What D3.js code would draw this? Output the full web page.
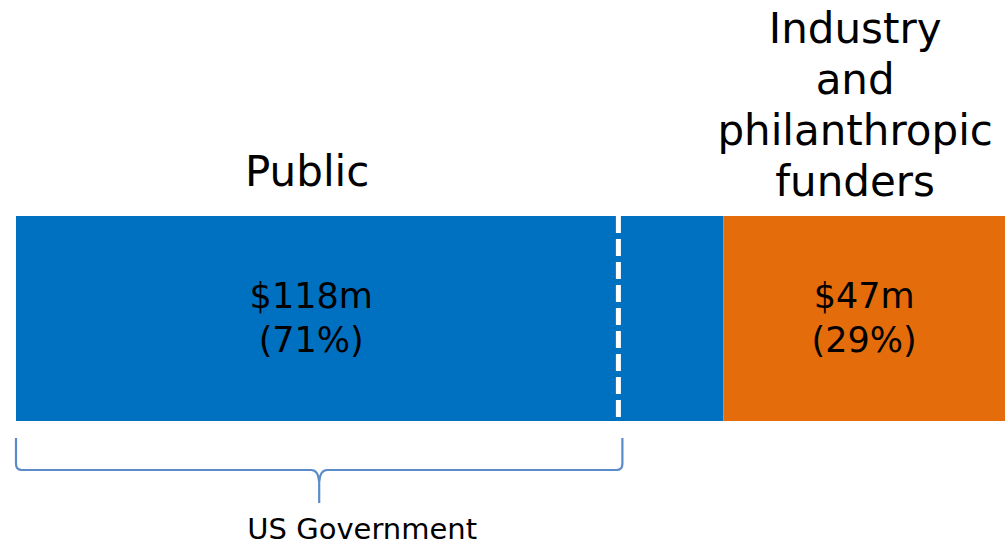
<!DOCTYPE html>
<html>
<head>
<meta charset="utf-8">
<script src="https://cdnjs.cloudflare.com/ajax/libs/d3/7.8.5/d3.min.js"></script>
<style>
  body{margin:0;background:#fff;}
  text{font-family:"DejaVu Sans",Verdana,sans-serif;fill:#000;}
</style>
</head>
<body>
<svg></svg>
<script>
var segments=["Public","Industry and philanthropic funders"];
var titleLines=[["Public"],["Industry","and","philanthropic","funders"]];
var amounts=[118,47];
var shares=[71,29];
var colors=["#0070C0","#E46C0A"];
var usGov=100.5;          // part of Public from the US Government ($m)
var usGovLabel="US Government";

var w=1007;
var h=545;
var margin={top:216,bottom:124,left:16,right:2};

var total=d3.sum(amounts);
var xScale=d3.scaleLinear()
             .domain([0,total])
             .range([margin.left,w-margin.right]);
var yScale=d3.scaleBand()
             .domain(["all"])
             .range([margin.top,h-margin.bottom])
             .padding(0);

var svg=d3.select("svg")
          .attr("width",w)
          .attr("height",h);

var starts=[0];
amounts.forEach(function(d,i){ starts.push(starts[i]+d); });

var bars=svg.append("g")
            .selectAll("rect")
            .data(amounts)
            .enter()
            .append("rect")
            .attr("x",function(d,i){ return xScale(starts[i]); })
            .attr("y",yScale("all"))
            .attr("width",function(d){ return xScale(d)-xScale(0); })
            .attr("height",yScale.bandwidth())
            .attr("fill",function(d,i){ return colors[i]; });

// dashed split inside Public
svg.append("line")
   .attr("x1",xScale(usGov)).attr("x2",xScale(usGov))
   .attr("y1",yScale("all")).attr("y2",yScale("all")+yScale.bandwidth())
   .attr("stroke","#fff")
   .attr("stroke-width",5)
   .attr("stroke-dasharray","17,6");

// value labels
var labelX=function(i){
  if(i==0) return (xScale(0)+xScale(usGov))/2-6;
  return (xScale(starts[i])+xScale(starts[i]+amounts[i]))/2;
};
var mid=yScale("all")+yScale.bandwidth()/2;
amounts.forEach(function(d,i){
  var t=svg.append("text")
           .attr("text-anchor","middle")
           .style("font-size","35px");
  t.append("tspan").attr("x",labelX(i)).attr("y",mid-11).text("$"+d+"m");
  t.append("tspan").attr("x",labelX(i)).attr("y",mid+33).text("("+shares[i]+"%)");
});

// segment titles, bottom aligned above the bar
titleLines.forEach(function(lines,i){
  var cx=i==0 ? labelX(0)-4 : labelX(i)-9;
  var gap=i==0 ? 30 : 20;
  var t=svg.append("text")
           .attr("text-anchor","middle")
           .style("font-size","42px");
  lines.forEach(function(s,j){
    t.append("tspan")
     .attr("x",cx)
     .attr("y",yScale("all")-gap-(lines.length-1-j)*51)
     .text(s);
  });
});

// brace under US Government part
var bx0=xScale(0), bx1=xScale(usGov)+4, bc=(bx0+bx1)/2;
var by0=yScale("all")+yScale.bandwidth()+17, by1=by0+32, by2=by1+33, r=6;
var brace=d3.path();
brace.moveTo(bx0,by0);
brace.lineTo(bx0,by1-r);
brace.quadraticCurveTo(bx0,by1,bx0+r,by1);
brace.lineTo(bc-8,by1);
brace.quadraticCurveTo(bc-1,by1,bc,by1+12);
brace.lineTo(bc,by2);
brace.moveTo(bc,by1+12);
brace.quadraticCurveTo(bc+1,by1,bc+8,by1);
brace.lineTo(bx1-r,by1);
brace.quadraticCurveTo(bx1,by1,bx1,by1-r);
brace.lineTo(bx1,by0);
svg.append("path")
   .attr("d",brace.toString())
   .attr("fill","none")
   .attr("stroke","#5B8BC9")
   .attr("stroke-width",2.2);

svg.append("text")
   .attr("x",bc+43)
   .attr("y",by2+36)
   .attr("text-anchor","middle")
   .style("font-size","29px")
   .text(usGovLabel);
</script>
</body>
</html>
